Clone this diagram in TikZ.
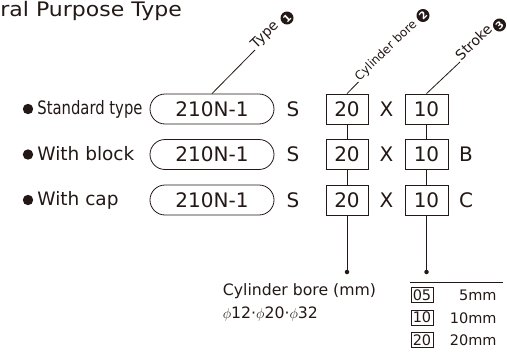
\documentclass[tikz,border=0pt]{standalone}
\usepackage{fontspec}
\setmainfont{DejaVu Sans}
\usepackage{graphicx}
\usetikzlibrary{calc}
\definecolor{ink}{HTML}{231815}
\begin{document}
\begin{tikzpicture}[x=1pt,y=-1pt, line width=0.8pt,
  code/.style={draw=ink, text=ink, rounded corners=15pt, minimum width=124pt, minimum height=30pt, inner sep=0pt, font=\fontsize{20}{24}\selectfont},
  digbox/.style={draw=ink, text=ink, minimum width=42pt, minimum height=30pt, inner sep=0pt, font=\fontsize{20}{24}\selectfont},
  sym/.style={text=ink, font=\fontsize{20}{24}\selectfont, inner sep=0pt},
  lbl/.style={text=ink, font=\fontsize{18.5}{22}\selectfont, anchor=base west, inner sep=0pt},
  lead/.style={text=ink, font=\fontsize{12}{14}\selectfont, anchor=base west, rotate=44, inner sep=1pt},
  num/.style={circle, fill=ink, text=white, minimum size=13pt, inner sep=0pt, font=\fontsize{10}{10}\selectfont\bfseries, rotate=44},
  legbox/.style={draw=ink, text=ink, minimum width=22pt, minimum height=15pt, inner sep=0pt, font=\fontsize{14.5}{16}\selectfont},
  legtxt/.style={text=ink, font=\fontsize{14.5}{16}\selectfont, anchor=east, inner sep=0pt},
  bore/.style={text=ink, font=\fontsize{15.7}{18}\selectfont, anchor=base west, inner sep=0pt},
  dot/.style={circle, fill=ink, minimum size=4.5pt, inner sep=0pt},
  conn/.style={draw=ink, line width=0.8pt}
]
\useasboundingbox (0,0) rectangle (507,359);

% title
\node[text=ink, anchor=base west, inner sep=0pt, font=\fontsize{20}{24}\selectfont] (title) at (0,16.7) {\scalebox{1.1}[1]{ral Purpose Type}};

% row labels
\fill[ink] (28,109) circle (5.2);
\fill[ink] (28,154.5) circle (5.2);
\fill[ink] (28,200) circle (5.2);
\node[lbl] (l1) at (37,114.5) {\scalebox{0.8}[1]{Standard type}};
\node[lbl] (l2) at (37,160) {With block};
\node[lbl] (l3) at (37,205.5) {With cap};

% codes
\node[code] (c1) at (212,109) {210N-1};
\node[code] (c2) at (212,154.5) {210N-1};
\node[code] (c3) at (212,200) {210N-1};

\node[sym] (s1) at (293,109) {S};
\node[sym] (s2) at (293,154.5) {S};
\node[sym] (s3) at (293,200) {S};

\node[digbox] (b1) at (347,109) {20};
\node[digbox] (b2) at (347,154.5) {20};
\node[digbox] (b3) at (347,200) {20};

\node[sym] (x1) at (386.5,109) {X};
\node[sym] (x2) at (386.5,154.5) {X};
\node[sym] (x3) at (386.5,200) {X};

\node[digbox, minimum width=43pt] (t1) at (426.5,109) {10};
\node[digbox, minimum width=43pt] (t2) at (426.5,154.5) {10};
\node[digbox, minimum width=43pt] (t3) at (426.5,200) {10};

\node[sym] (sfxB) at (466,154.5) {B};
\node[sym] (sfxC) at (466,200) {C};

% vertical connectors
\node[dot] (d1) at (347,272) {};
\node[dot] (d2) at (426.5,272) {};
\draw[conn] (b1.south) -- (b2.north);
\draw[conn] (b2.south) -- (b3.north);
\draw[conn] (b3.south) -- (d1.center);
\draw[conn] (t1.south) -- (t2.north);
\draw[conn] (t2.south) -- (t3.north);
\draw[conn] (t3.south) -- (d2.center);

% leaders
\coordinate (e1) at (255,50);
\coordinate (e2) at (358.5,82);
\coordinate (e3) at (460,62);
\draw[conn] (c1.north) -- (e1);
\draw[conn] (b1.north) -- (e2);
\draw[conn] (t1.north) -- (e3);
\node[lead, font=\fontsize{14}{16}\selectfont] (lt1) at (e1) {Type};
\node[lead] (lt2) at (e2) {Cylinder bore};
\node[lead, font=\fontsize{14}{16}\selectfont] (lt3) at (e3) {Stroke};
\node[num] (n1) at (287,18) {1};
\node[num] (n2) at (423,15.5) {2};
\node[num] (n3) at (499.5,25) {3};

% bore text
\node[bore] (bt1) at (222.5,295) {Cylinder bore (mm)};
\node[bore] (bt2) at (222.5,318.3) {$\phi$12·$\phi$20·$\phi$32};

% stroke legend
\coordinate (la) at (410,282);
\coordinate (lb) at (503,282);
\draw[draw=ink, line width=0.7pt] (la) -- (lb);
\node[legbox] (k1) at (422,295.2) {05};
\node[legbox] (k2) at (422,317.5) {10};
\node[legbox] (k3) at (422,340) {20};
\node[legtxt] (v1) at (497,295.5) {5mm};
\node[legtxt] (v2) at (497,317.8) {10mm};
\node[legtxt] (v3) at (497,340.3) {20mm};
\end{tikzpicture}
\end{document}
